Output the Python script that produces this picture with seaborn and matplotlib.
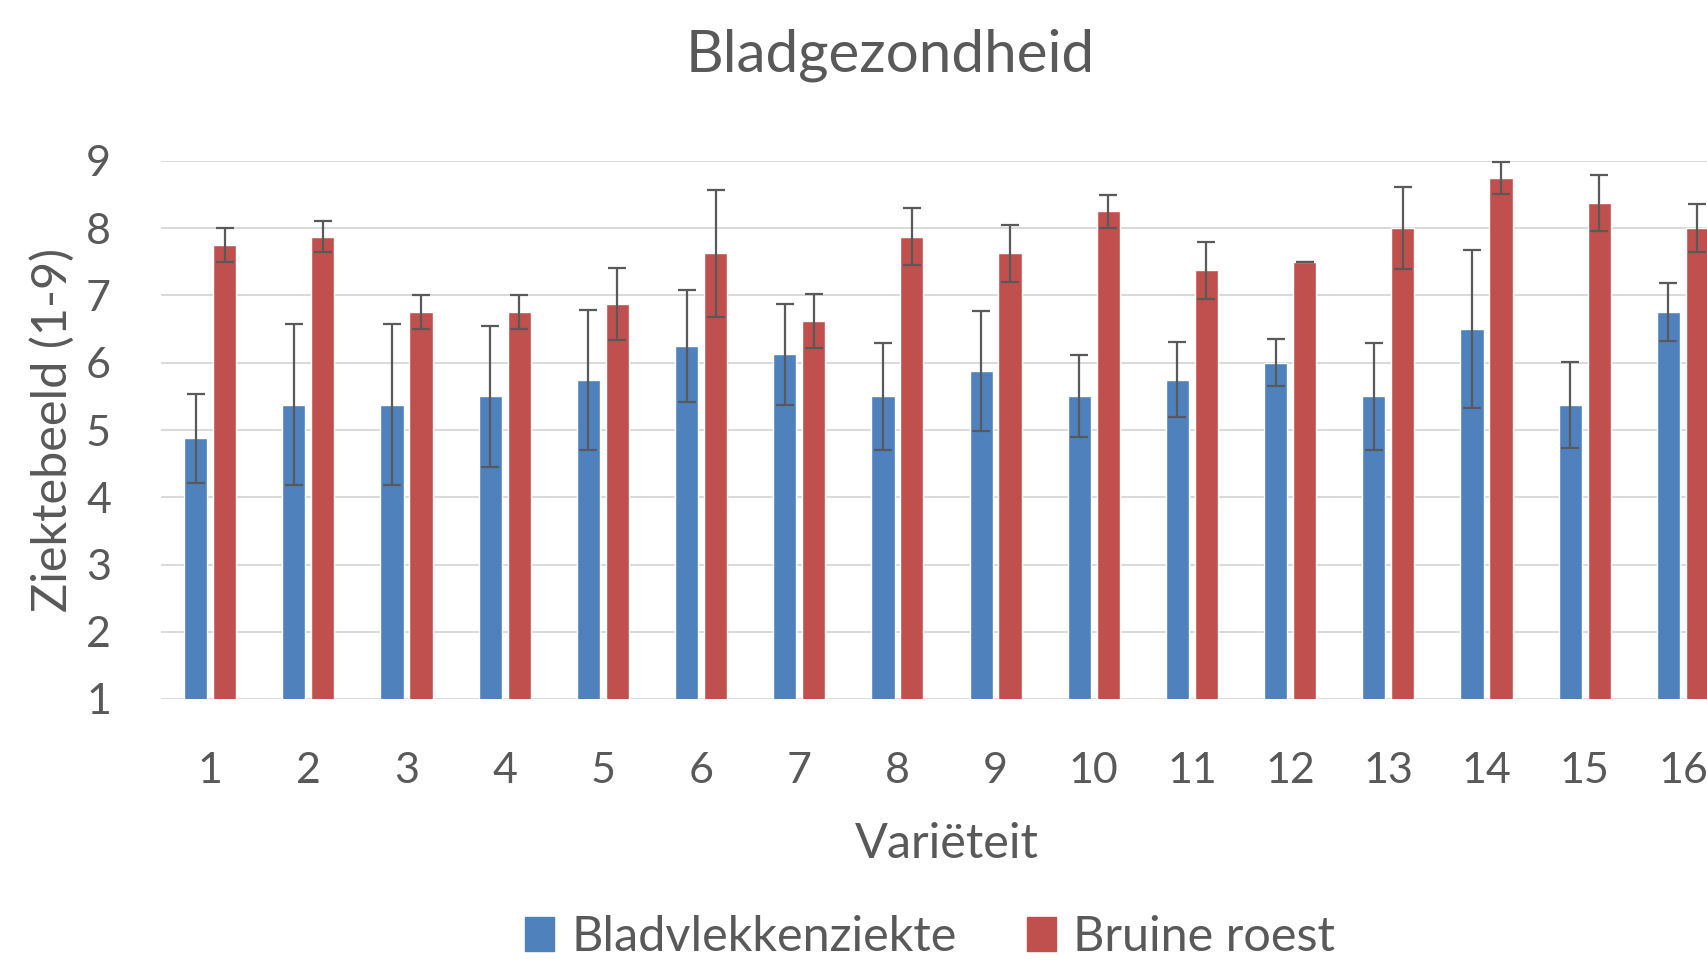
import matplotlib
matplotlib.use("Agg")
import matplotlib.pyplot as plt
import pandas as pd
import seaborn as sns
from matplotlib.patches import Patch

varieties = [str(i) for i in range(1, 17)]
series = ["Bladvlekkenziekte", "Bruine roest"]
bladvlek = [4.875, 5.375, 5.375, 5.5, 5.75, 6.25, 6.125, 5.5,
            5.875, 5.5, 5.75, 6.0, 5.5, 6.5, 5.375, 6.75]
bladvlek_err = [0.66, 1.2, 1.2, 1.05, 1.04, 0.83, 0.75, 0.79,
                0.89, 0.61, 0.56, 0.35, 0.79, 1.17, 0.64, 0.43]
roest = [7.75, 7.875, 6.75, 6.75, 6.875, 7.625, 6.625, 7.875,
         7.625, 8.25, 7.375, 7.5, 8.0, 8.75, 8.375, 8.0]
roest_err = [0.25, 0.23, 0.25, 0.25, 0.53, 0.95, 0.4, 0.42,
             0.42, 0.25, 0.42, 0.0, 0.61, 0.24, 0.41, 0.36]

colors = ["#4F81BD", "#C0504D"]
text_color = "#595959"

df = pd.DataFrame({
    "variety": varieties * 2,
    "series": [series[0]] * 16 + [series[1]] * 16,
    "score": bladvlek + roest,
})

sns.set_theme(style="white")
plt.rcParams["font.family"] = ["Lato", "DejaVu Sans"]

fig = plt.figure(figsize=(17.07, 9.61), dpi=100)
ax = fig.add_axes([161 / 1707, 262 / 961, 1571 / 1707, 538 / 961])

sns.barplot(data=df, x="variety", y="score", hue="series", order=varieties,
            hue_order=series, palette=colors, width=0.59, gap=0.2,
            saturation=1, errorbar=None, legend=False, ax=ax)

# error bars on top of each seaborn bar
for container, errs in zip(ax.containers, [bladvlek_err, roest_err]):
    xs = [b.get_x() + b.get_width() / 2 for b in container]
    ys = [b.get_height() for b in container]
    ax.errorbar(xs, ys, yerr=errs, fmt="none", ecolor=text_color,
                elinewidth=1.6, capsize=6.5, capthick=1.6, zorder=5,
                clip_on=False)

ax.set_ylim(1, 9)
ax.set_xlim(-0.5, 15.5)
ax.set_yticks(range(1, 10))
ax.yaxis.grid(True, color="#D9D9D9", linewidth=1.4)
ax.set_axisbelow(True)
for side in ["top", "right", "left", "bottom"]:
    ax.spines[side].set_visible(False)
ax.tick_params(axis="both", length=0, labelsize=31, labelcolor=text_color)
ax.tick_params(axis="x", pad=38)
ax.tick_params(axis="y", pad=36)
ax.set_xlabel("Variëteit", fontsize=35, color=text_color, labelpad=23)
ax.set_ylabel("Ziektebeeld (1-9)", fontsize=35, color=text_color, labelpad=8)

fig.text(890 / 1707, 1 - 55 / 961, "Bladgezondheid", ha="center", va="center",
         fontsize=42, color=text_color)

handles = [Patch(color=c, label=s) for c, s in zip(colors, series)]
fig.legend(handles=handles, loc="center", bbox_to_anchor=(930 / 1707, 24 / 961),
           ncol=2, frameon=False, fontsize=35, labelcolor=text_color,
           handlelength=0.6, handleheight=0.7, handletextpad=0.35,
           columnspacing=1.45)

fig.savefig("out.png", dpi=100)
